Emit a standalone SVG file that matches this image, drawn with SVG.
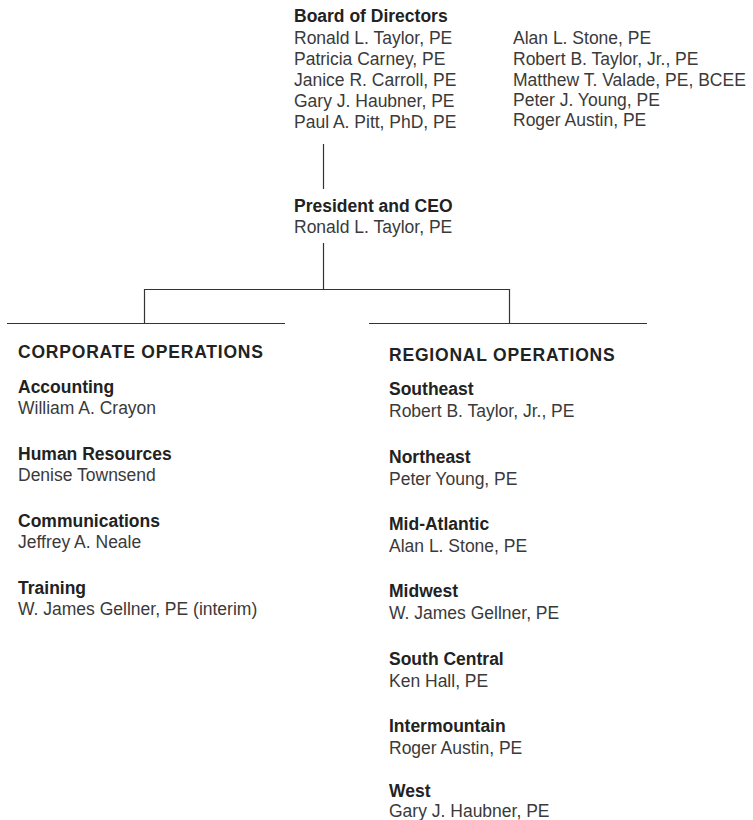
<svg xmlns="http://www.w3.org/2000/svg" width="753" height="820" viewBox="0 0 753 820">
<style>
text{font-family:"Liberation Sans",Arial,sans-serif;font-size:17.5px;fill:#3a3a3a}
.t{font-weight:bold;fill:#222}
.h{font-weight:bold;fill:#222;letter-spacing:0.8px}
.c{stroke:#333;stroke-width:1.2;fill:none}
</style>
<rect width="753" height="820" fill="#fff"/>
<g id="connectors">
<line class="c" x1="323.5" y1="144" x2="323.5" y2="189"/>
<line class="c" x1="323.5" y1="243" x2="323.5" y2="289.5"/>
<polyline class="c" points="144.5,323 144.5,289.5 509.5,289.5 509.5,323"/>
<line class="c" x1="7" y1="323.5" x2="285" y2="323.5"/>
<line class="c" x1="369" y1="323.5" x2="647" y2="323.5"/>
</g>
<g id="board">
<text class="t" x="294" y="22">Board of Directors</text>
<text x="294" y="44">Ronald L. Taylor, PE</text>
<text x="294" y="65">Patricia Carney, PE</text>
<text x="294" y="86">Janice R. Carroll, PE</text>
<text x="294" y="107">Gary J. Haubner, PE</text>
<text x="294" y="128">Paul A. Pitt, PhD, PE</text>
<text x="513" y="44">Alan L. Stone, PE</text>
<text x="513" y="65">Robert B. Taylor, Jr., PE</text>
<text x="513" y="86">Matthew T. Valade, PE, BCEE</text>
<text x="513" y="106">Peter J. Young, PE</text>
<text x="513" y="126">Roger Austin, PE</text>
</g>
<g id="president">
<text class="t" x="294" y="212">President and CEO</text>
<text x="294" y="233">Ronald L. Taylor, PE</text>
</g>
<g id="corporate-operations">
<text class="h" x="18" y="358">CORPORATE OPERATIONS</text>
</g>
<g id="accounting">
<text class="t" x="18" y="393">Accounting</text>
<text x="18" y="414">William A. Crayon</text>
</g>
<g id="human-resources">
<text class="t" x="18" y="460">Human Resources</text>
<text x="18" y="481">Denise Townsend</text>
</g>
<g id="communications">
<text class="t" x="18" y="527">Communications</text>
<text x="18" y="548">Jeffrey A. Neale</text>
</g>
<g id="training">
<text class="t" x="18" y="594">Training</text>
<text x="18" y="615">W. James Gellner, PE (interim)</text>
</g>
<g id="regional-operations">
<text class="h" x="389" y="361">REGIONAL OPERATIONS</text>
</g>
<g id="southeast">
<text class="t" x="389" y="395">Southeast</text>
<text x="389" y="417">Robert B. Taylor, Jr., PE</text>
</g>
<g id="northeast">
<text class="t" x="389" y="463">Northeast</text>
<text x="389" y="485">Peter Young, PE</text>
</g>
<g id="mid-atlantic">
<text class="t" x="389" y="530">Mid-Atlantic</text>
<text x="389" y="552">Alan L. Stone, PE</text>
</g>
<g id="midwest">
<text class="t" x="389" y="597">Midwest</text>
<text x="389" y="619">W. James Gellner, PE</text>
</g>
<g id="south-central">
<text class="t" x="389" y="665">South Central</text>
<text x="389" y="687">Ken Hall, PE</text>
</g>
<g id="intermountain">
<text class="t" x="389" y="732">Intermountain</text>
<text x="389" y="754">Roger Austin, PE</text>
</g>
<g id="west">
<text class="t" x="389" y="797">West</text>
<text x="389" y="817">Gary J. Haubner, PE</text>
</g>
</svg>
